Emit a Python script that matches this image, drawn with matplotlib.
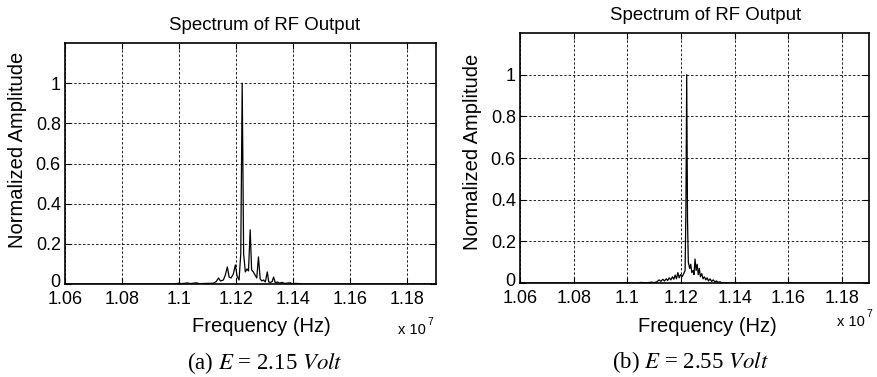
"""Spectrum of RF output for two supply voltages."""
import matplotlib
import matplotlib.pyplot as plt
from matplotlib.transforms import ScaledTranslation

matplotlib.use("agg")

# frequency in units of 1e7 Hz, normalized amplitude
FREQ_A = [
    1.060, 1.098, 1.100, 1.101, 1.103, 1.104, 1.106, 1.107, 1.110, 1.112,
    1.113, 1.1138, 1.1145, 1.1155, 1.1162, 1.1169, 1.1175, 1.1182, 1.1190,
    1.1197, 1.1203, 1.1210, 1.1216, 1.1221, 1.1226, 1.1232, 1.1238, 1.1243,
    1.1249, 1.1254, 1.1260, 1.1266, 1.1272, 1.1278, 1.1284, 1.1290, 1.1296,
    1.1302, 1.1309, 1.1314, 1.1320, 1.1326, 1.1331, 1.1337, 1.1345, 1.1352,
    1.1360, 1.1370, 1.1390, 1.1395, 1.1410, 1.1430, 1.190,
]
AMP_A = [
    0.0, 0.0, 0.004, 0.002, 0.005, 0.002, 0.006, 0.002, 0.003, 0.004,
    0.012, 0.03, 0.015, 0.02, 0.045, 0.085, 0.035, 0.03, 0.05,
    0.095, 0.04, 0.02, 0.15, 1.0, 0.15, 0.06, 0.075, 0.065,
    0.27, 0.07, 0.06, 0.045, 0.03, 0.135, 0.025, 0.015, 0.02,
    0.01, 0.06, 0.01, 0.008, 0.012, 0.035, 0.006, 0.01, 0.004,
    0.008, 0.003, 0.006, 0.002, 0.003, 0.0, 0.0,
]

FREQ_B = [
    1.060, 1.104, 1.105, 1.107, 1.109, 1.110, 1.111, 1.1118, 1.1125, 1.1132,
    1.1138, 1.1145, 1.1150, 1.1156, 1.1162, 1.1168, 1.1173, 1.1178, 1.1183,
    1.1188, 1.1193, 1.1198, 1.1204, 1.1210, 1.1215, 1.1218, 1.1221, 1.1224,
    1.1227, 1.1232, 1.1236, 1.1240, 1.1245, 1.1248, 1.1252, 1.1256, 1.1260,
    1.1264, 1.1268, 1.1272, 1.1277, 1.1282, 1.1287, 1.1292, 1.1297, 1.1302,
    1.1308, 1.1314, 1.1320, 1.1326, 1.1332, 1.1338, 1.1345, 1.1350, 1.1370,
    1.1380, 1.190,
]
AMP_B = [
    0.0, 0.0, 0.003, 0.001, 0.004, 0.002, 0.006, 0.015, 0.008, 0.018,
    0.01, 0.02, 0.012, 0.025, 0.015, 0.03, 0.018, 0.038, 0.02,
    0.05, 0.025, 0.04, 0.03, 0.045, 0.06, 0.35, 1.0, 0.3,
    0.1, 0.07, 0.09, 0.05, 0.06, 0.04, 0.115, 0.06, 0.09,
    0.04, 0.07, 0.03, 0.045, 0.02, 0.03, 0.015, 0.025, 0.01,
    0.02, 0.008, 0.015, 0.005, 0.01, 0.003, 0.006, 0.001, 0.002,
    0.0, 0.0,
]

X_TICKS = [1.06, 1.08, 1.10, 1.12, 1.14, 1.16, 1.18]
X_TICKLABELS = ["1.06", "1.08", "1.1", "1.12", "1.14", "1.16", "1.18"]
Y_TICKS = [0, 0.2, 0.4, 0.6, 0.8, 1.0]
Y_TICKLABELS = ["0", "0.2", "0.4", "0.6", "0.8", "1"]

W, H = 877, 377
SANS = "Liberation Sans"
SERIF = "Liberation Serif"


def px(x, y):
    """Pixel position (from top-left) to figure fraction."""
    return x / W, 1 - y / H


def draw_spectrum(ax, freq, amp):
    ax.plot(freq, amp, color="black", lw=0.9)
    ax.set_xlim(1.06, 1.19)
    ax.set_ylim(0, 1.2)
    ax.set_xticks(X_TICKS)
    ax.set_xticklabels(X_TICKLABELS)
    ax.set_yticks(Y_TICKS)
    ax.set_yticklabels(Y_TICKLABELS)
    ax.tick_params(direction="in", length=4, width=0.8, labelsize=13,
                   top=True, right=True)
    ax.tick_params(axis="x", pad=5)
    ax.tick_params(axis="y", pad=3)
    for lab in ax.get_xticklabels() + ax.get_yticklabels():
        lab.set_fontfamily(SANS)
    # lift the "0" a little so it clears "1.06", as in the original
    zero = ax.get_yticklabels()[0]
    zero.set_transform(zero.get_transform()
                       + ScaledTranslation(0, 2.5 / 72, ax.figure.dpi_scale_trans))
    ax.grid(True, color="#222222", lw=0.7, linestyle=(0, (2.5, 2)))
    for sp in ax.spines.values():
        sp.set_linewidth(1.2)


def make_plots():
    plt.rcParams["mathtext.fontset"] = "stix"
    fig = plt.figure(figsize=(W / 100, H / 100), dpi=100)
    ax_a = fig.add_axes([0.0741, 0.2467, 0.4230, 0.6390])
    ax_b = fig.add_axes([0.5929, 0.2493, 0.3980, 0.6632])
    draw_spectrum(ax_a, FREQ_A, AMP_A)
    draw_spectrum(ax_b, FREQ_B, AMP_B)

    lab = dict(fontsize=14.5, family=SANS, ha="center", va="center")
    title = dict(fontsize=13.4, family=SANS, ha="center", va="center")
    cap = dict(fontsize=16.5, family=SERIF, ha="center", va="center")
    # panel (a)
    fig.text(*px(265, 25), "Spectrum of RF Output", **title)
    fig.text(*px(18, 150), "Normalized Amplitude", rotation=90, **lab)
    fig.text(*px(261, 327), "Frequency (Hz)", **lab)
    fig.text(*px(398, 330), "x 10", fontsize=10.5, family=SANS,
             ha="left", va="center")
    fig.text(*px(427, 322), "7", fontsize=7.5, family=SANS,
             ha="left", va="center")
    fig.text(*px(265, 363), r"(a) $E$ = 2.15 $Volt$", **cap)
    # panel (b)
    fig.text(*px(706, 15), "Spectrum of RF Output", **title)
    fig.text(*px(472, 152), "Normalized Amplitude", rotation=90, **lab)
    fig.text(*px(707, 327), "Frequency (Hz)", **lab)
    fig.text(*px(837, 322), "x 10", fontsize=10.5, family=SANS,
             ha="left", va="center")
    fig.text(*px(866, 314), "7", fontsize=7.5, family=SANS,
             ha="left", va="center")
    fig.text(*px(690, 362), r"(b) $E$ = 2.55 $Volt$", **cap)

    fig.savefig("out.png", dpi=100)


if __name__ == "__main__":
    make_plots()
